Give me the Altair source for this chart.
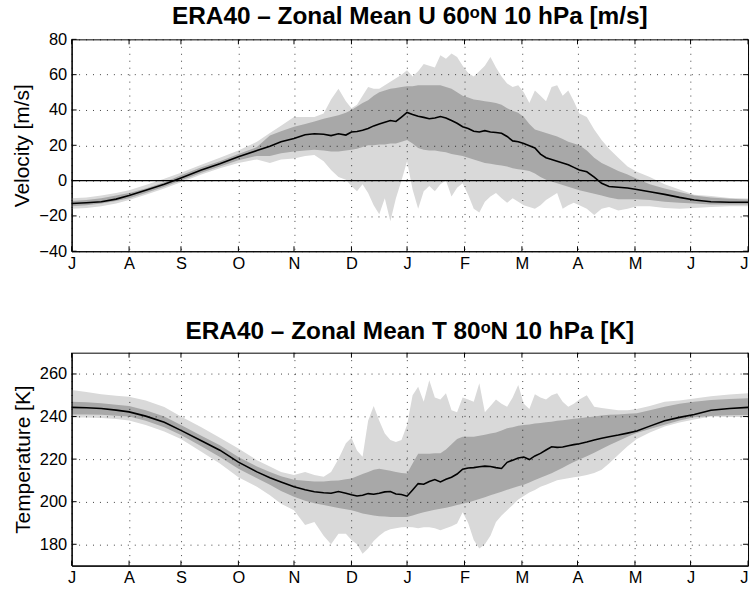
import altair as alt
import pandas as pd

# day index counted from 1 July
days = [0, 8, 16, 24, 31, 40, 50, 59, 70, 80, 90, 100, 107, 113, 120, 126, 131, 136, 140, 144,
        148, 151, 154, 157, 160, 163, 166, 169, 172, 175, 178, 181, 184, 187, 190, 193, 196, 199, 202, 205,
        208, 211, 214, 217, 220, 223, 226, 229, 232, 235, 238, 241, 244, 247, 250, 253, 256, 259, 262, 265,
        268, 271, 274, 278, 282, 286, 290, 295, 300, 305, 312, 320, 328, 336, 345, 355, 365]

# ---- zonal mean U, 60N, 10 hPa [m/s]
u_mean = [-13, -12.5, -12, -10.5, -8.5, -5.5, -2, 1.5, 6, 9.5, 13.5, 17, 19.5, 22, 23.8, 26, 26.5, 26.3, 25.5, 26.5,
          25.8, 27.5, 27.8, 28.5, 29.5, 31, 32, 33, 34, 33.5, 36, 38.6, 37.5, 36.5, 35.8, 35, 35.5, 36.3, 35.5, 34,
          32.5, 30.5, 29.5, 28, 27.5, 28.3, 27.5, 27.2, 26.8, 25, 22.5, 22, 21, 19.8, 18.5, 15, 13, 12, 11, 10,
          9, 7.5, 6, 5, 2, -1.5, -3.3, -3.8, -4.2, -5, -6.3, -7.8, -9.5, -11, -12, -12.3, -12.3]
u_hi = [-11.5, -11, -10, -8.5, -7, -4.5, -1, 3, 7.5, 11, 15, 19, 25.5, 28, 30.5, 32, 33.5, 35, 36, 37,
        38.5, 40, 42, 44, 45.5, 48, 50, 51, 52, 52.5, 53, 53.5, 53.5, 54, 54, 54, 54, 54, 53, 52,
        50, 48, 47, 46, 45.5, 45, 44.5, 44, 43, 41, 39.5, 38.5, 36, 32, 29, 28, 27, 26, 25, 23.5,
        22, 21, 20, 17, 13, 10, 8, 5.5, 3.5, 1, -2, -4.5, -6.5, -8.5, -9.5, -10.3, -10.7]
u_lo = [-14.5, -14, -13, -11.5, -10, -7, -3.5, 0, 4.5, 8, 11.5, 14, 14, 15.5, 16.5, 17, 17.5, 17, 16.5, 16.5,
        17, 17.5, 18, 19, 20, 20, 20.5, 20.5, 21, 21, 22, 23, 21, 18.5, 17.5, 17, 17, 16.5, 16, 15,
        14.5, 14, 13, 12, 11, 10, 9.5, 9, 8.5, 8, 7, 6.5, 6, 5.5, 4, 2, 0.5, -0.5, -1.5, -2.5,
        -3.5, -4.5, -5.5, -6.5, -7.5, -8.5, -9.5, -10.5, -10.5, -10.5, -11, -12, -12.5, -13, -13.5, -13.5, -13.5]
u_max = [-10, -9.5, -8.5, -7, -5.5, -2.5, 1, 4.5, 9, 13, 17, 22, 27, 31, 36, 36, 36, 38, 46, 52,
         45, 41, 43, 48, 53, 52, 52, 54, 56, 58, 60, 62.5, 59, 62, 66, 65, 64, 71, 69, 72,
         70, 65, 61, 59, 62, 65, 70, 64, 59, 55, 53, 54, 50, 44, 51, 48, 45, 53, 54, 48,
         51, 45, 38, 36, 29, 23, 18, 13, 8, 5, 2, -2, -5, -8, -8.7, -9.8, -10.2]
u_min = [-16, -15.5, -14.5, -13, -11, -8, -4.5, -1, 3.5, 7, 10, 12, 10, 12, 12.5, 14, 14.5, 11, 6, 2,
         0.5, -3, -6, -2, -7, -14, -19, -10, -23, -10, 0, 11, -5, -16, -6, -3, -6, -2, 0, -9,
         -4, -1.5, -8, -16, -18, -12, -9, -7, -10, -12.5, -10, -12, -14, -15, -16, -14, -11, -9, -7, -16,
         -14, -12.5, -14, -16, -19.5, -16, -15, -17, -16, -14.5, -14.5, -15.5, -16, -15.5, -15, -14.5, -14.5]

# ---- zonal mean T, 80N, 10 hPa [K]
t_mean = [244.3, 244.1, 243.8, 243, 242.2, 240.2, 237.3, 233.5, 228.6, 224.2, 218.6, 214, 211.3, 209.3, 207, 205.6, 204.7, 204.2, 204, 204.8,
          204, 203.3, 202.7, 203, 203.8, 203.5, 204, 204.6, 204.8, 203.6, 203.4, 202.6, 205.5, 208.5, 208.2, 209.5, 210.4, 209.3, 210.5, 211.5,
          213, 215.3, 215.8, 216, 216.4, 216.7, 216.5, 216, 215.6, 218.5, 219.5, 220.5, 221, 219.8, 221.5, 222.7, 224.3, 225.8, 225.5, 225.7,
          226.3, 226.8, 227.2, 228, 229, 229.8, 230.5, 231.3, 232.2, 233.2, 235.5, 238, 239.6, 241, 243, 243.8, 244.3]
t_hi = [247, 246.7, 246.3, 245.6, 245, 243, 240, 236, 231, 226.5, 221, 216.5, 214, 212, 210.3, 209.8, 209.5, 209.5, 209.8, 210,
        210.5, 210.9, 212, 213, 214, 215, 215.5, 215, 214.5, 214, 213.5, 213.3, 218, 222.5, 222.5, 222.5, 222.7, 222.7, 224.5, 227,
        229.5, 230.5, 230.5, 230.5, 231, 231.5, 232, 232.5, 233.5, 234.5, 235, 235.7, 236, 236.3, 236.7, 237, 237.3, 237.6, 238, 238.3,
        238.6, 239, 239.2, 239.7, 240, 240.5, 240.8, 241, 241.3, 241.6, 243, 244.6, 246, 247, 247.8, 248.3, 248.6]
t_lo = [241, 241, 240.8, 240.4, 240, 238, 235, 231.3, 226, 221, 215.5, 211, 208, 205, 202.3, 200.5, 199.3, 198.5, 197.8, 197,
        196.5, 196, 195.3, 194.5, 194, 193.5, 193.2, 193, 192.8, 192.8, 192.8, 192.8, 193.5, 194.3, 195, 195.6, 196.2, 196.7, 197.2, 197.8,
        198.4, 199, 199.6, 200.4, 201.3, 202.1, 203, 203.8, 204.7, 205.6, 206.4, 207.2, 208, 209, 210.2, 211.2, 212.3, 213.4, 214.6, 215.9,
        217.3, 218.7, 219.8, 221.4, 223, 224.8, 226.5, 228.5, 230.5, 232.3, 234.2, 236.2, 238.2, 239.7, 240.3, 240.6, 240.7]
t_max = [252.5, 251.5, 250.5, 249.8, 249.3, 247.5, 244.5, 240, 235, 230, 225, 219.5, 216.5, 214, 212.5, 214, 212.5, 211.7, 214, 220,
         227.4, 230, 224, 221.1, 238, 245, 238, 232, 229, 228, 229, 236, 250, 254, 247, 257, 249, 248, 251, 243,
         242, 249, 248, 247, 255.6, 242, 245, 248, 246, 244.6, 249, 254.8, 246, 243.5, 250.5, 249, 248, 250, 250.9, 247,
         244.6, 246, 248, 250, 244.6, 244, 243.5, 243, 243, 243.5, 245, 247, 247.5, 248.5, 249.5, 250.3, 250.9]
t_min = [239.5, 239.5, 239.3, 238.8, 238.2, 236, 233, 229.5, 223.5, 218, 211.5, 207, 203, 199, 196, 189, 190.5, 184, 180, 185,
         185, 182, 180, 175.6, 178, 181.5, 184, 186, 187, 187.5, 188, 188.1, 188, 187.5, 188, 188, 187.5, 186.6, 187.5, 188.5,
         189.7, 195, 190, 182, 178, 180, 184, 190.5, 193.5, 196, 198.5, 201, 202.7, 204.3, 205.5, 207, 208, 209, 210.1, 210.5,
         211, 211.5, 211.8, 212.5, 213.5, 215, 218, 222, 226, 229.5, 232.5, 235.3, 237.2, 238.6, 240, 239.8, 239.8]

month_ticks = [0, 31, 59, 90, 120, 151, 181, 212, 243, 273, 304, 334, 365]
month_labels = ["J", "A", "S", "O", "N", "D", "J", "F", "M", "A", "M", "J", "J"]

u_ticks = [-40, -20, 0, 20, 40, 60, 80]
t_ticks = [180, 200, 220, 240, 260]

FONT = "Liberation Sans"
LIGHT = "#d9d9d9"
DARK = "#a8a8a8"
W = 680
TICK = 5

label_expr = "".join(f"datum.value == {v} ? '{l}' : " for v, l in zip(month_ticks, month_labels)) + "''"
last_tick = month_ticks[-1]

df_u = pd.DataFrame({"day": days, "mean": u_mean, "hi": u_hi, "lo": u_lo, "max": u_max, "min": u_min})
df_t = pd.DataFrame({"day": days, "mean": t_mean, "hi": t_hi, "lo": t_lo, "max": t_max, "min": t_min})
df_xt = pd.DataFrame({"day": month_ticks})


def panel(df, title, ytitle, ydomain, yticks, height, title_offset, zero=False):
    xax = alt.Axis(values=month_ticks, labelExpr=label_expr, title=None, grid=True,
                   ticks=False, labelPadding=4, zindex=1, labelAngle=0,
                   labelAlign=alt.ExprRef(expr=f"datum.value >= {last_tick} ? 'right' : 'center'"))
    yax = alt.Axis(values=yticks, title=ytitle, grid=True, ticks=False, labelPadding=5,
                   titlePadding=6, zindex=1)
    xs = alt.Scale(domain=[0, 365], nice=False, zero=False)
    ys = alt.Scale(domain=ydomain, nice=False, zero=False)
    X = alt.X("day:Q", scale=xs, axis=xax)
    base = alt.Chart(df)
    layers = [
        base.mark_area(color=LIGHT, opacity=1).encode(x=X, y=alt.Y("max:Q", scale=ys, axis=yax), y2="min:Q"),
        base.mark_area(color=DARK, opacity=1).encode(x=X, y=alt.Y("hi:Q", scale=ys, axis=yax), y2="lo:Q"),
    ]
    if zero:
        layers.append(
            alt.Chart(pd.DataFrame({"z": [0]})).mark_rule(color="black", strokeWidth=1.2)
            .encode(y=alt.Y("z:Q", scale=ys, axis=yax))
        )
    layers.append(
        base.mark_line(color="black", strokeWidth=1.6).encode(x=X, y=alt.Y("mean:Q", scale=ys, axis=yax))
    )
    # inward tick marks on all four sides of the box
    df_yt = pd.DataFrame({"v": yticks})
    xt = alt.Chart(df_xt).mark_rule(color="black", strokeWidth=1)
    yt = alt.Chart(df_yt).mark_rule(color="black", strokeWidth=1)
    layers += [
        xt.encode(x=X, y=alt.value(height), y2=alt.value(height - TICK)),
        xt.encode(x=X, y=alt.value(0), y2=alt.value(TICK)),
        yt.encode(y=alt.Y("v:Q", scale=ys, axis=yax), x=alt.value(0), x2=alt.value(TICK)),
        yt.encode(y=alt.Y("v:Q", scale=ys, axis=yax), x=alt.value(W), x2=alt.value(W - TICK)),
    ]
    return alt.layer(*layers).properties(
        width=W, height=height,
        title=alt.Title(title, font=FONT, fontSize=24.5, fontWeight="bold", color="black",
                        anchor="middle", baseline="bottom", offset=title_offset),
    )


top = panel(df_u, "ERA40 – Zonal Mean U 60ᵒN 10 hPa [m/s]", "Velocity [m/s]", [-40, 80], u_ticks, 213, -22, zero=True)
bottom = panel(df_t, "ERA40 – Zonal Mean T 80ᵒN 10 hPa [K]", "Temperature [K]", [170, 270], t_ticks, 214, -16)

chart = alt.vconcat(top, bottom, spacing=46).properties(
    padding={"left": 11, "top": 2, "right": 0, "bottom": 0},
    background="white",
).configure_view(stroke="black", strokeWidth=1).configure_axis(
    labelFont=FONT, labelFontSize=16.5, labelColor="black",
    titleFont=FONT, titleFontSize=21, titleFontWeight="normal", titleColor="black",
    domainColor="black", domainWidth=1.2,
    gridColor="black", gridOpacity=0.75, gridDash=[1, 6], gridWidth=1,
)

chart.save("out.html", embed_options={"renderer": "svg", "actions": False})
